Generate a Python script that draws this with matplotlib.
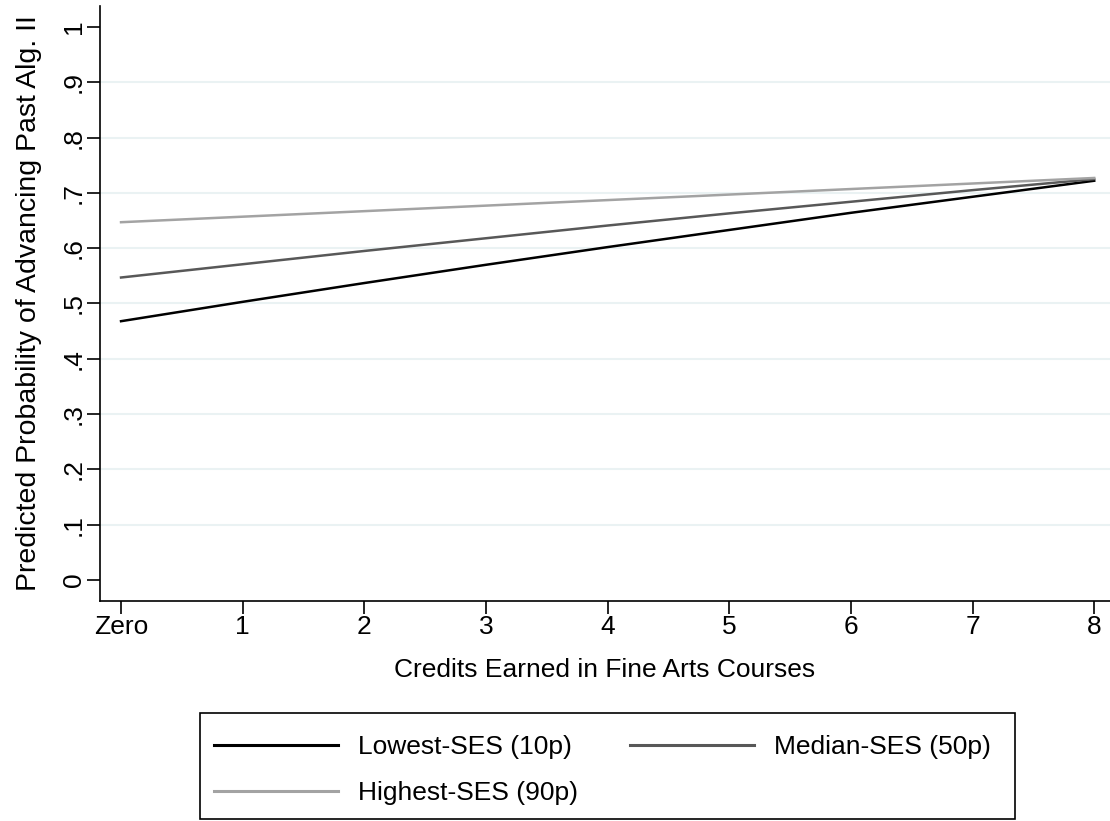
import matplotlib
matplotlib.use("Agg")
import matplotlib.pyplot as plt

# predicted probabilities
credits = [0, 1, 2, 3, 4, 5, 6, 7, 8]
tick_labels = ["Zero", "1", "2", "3", "4", "5", "6", "7", "8"]
lowest_ses = [0.468, 0.503, 0.537, 0.570, 0.602, 0.633, 0.664, 0.693, 0.722]
median_ses = [0.547, 0.571, 0.595, 0.618, 0.641, 0.663, 0.684, 0.705, 0.725]
highest_ses = [0.647, 0.657, 0.667, 0.677, 0.687, 0.697, 0.707, 0.717, 0.727]
y_ticks = [0, 0.1, 0.2, 0.3, 0.4, 0.5, 0.6, 0.7, 0.8, 0.9, 1]
y_tick_labels = ["0", ".1", ".2", ".3", ".4", ".5", ".6", ".7", ".8", ".9", "1"]

plt.rcParams['font.family'] = ['Liberation Sans', 'DejaVu Sans']
plt.rcParams['font.size'] = 19

W, H = 1110, 821
fig = plt.figure(figsize=(W / 100, H / 100), dpi=100)
ax = fig.add_axes([100 / W, 1 - 601 / H, 1 - 100 / W, (601 - 6) / H])

# light gridlines, not at the ends
for y in y_ticks[1:-1]:
    ax.axhline(y, color='#eaf2f3', lw=1.5, zorder=1)

ax.plot(credits, lowest_ses, color='black', lw=1.8, label='Lowest-SES (10p)', zorder=3)
ax.plot(credits, median_ses, color='#585858', lw=1.8, label='Median-SES (50p)', zorder=3)
ax.plot(credits, highest_ses, color='#a3a3a3', lw=1.8, label='Highest-SES (90p)', zorder=3)

ax.set_xlim(-0.173, 8.13)
ax.set_ylim(-0.038, 1.038)
ax.set_xticks(credits)
ax.set_xticklabels(tick_labels)
ax.set_yticks(y_ticks)
ax.set_yticklabels(y_tick_labels, rotation=90, va='center')

for side in ['top', 'right']:
    ax.spines[side].set_visible(False)
for side in ['left', 'bottom']:
    ax.spines[side].set_linewidth(1.2)
ax.tick_params(axis='both', length=9.4, width=1.2, color='black')
ax.tick_params(axis='x', pad=1)
ax.tick_params(axis='y', pad=1)

ax.set_xlabel('Credits Earned in Fine Arts Courses', labelpad=13)
ax.set_ylabel('Predicted Probability of Advancing Past Alg. II', fontsize=20.5, labelpad=14)

# legend order: Lowest, Median (row 1), Highest (row 2)
handles, labels = ax.get_legend_handles_labels()
order = [0, 2, 1]
leg = fig.legend([handles[i] for i in order], [labels[i] for i in order],
                 ncol=2, loc='upper left', bbox_to_anchor=(214 / W, 1 - 735 / H),
                 borderaxespad=0, frameon=False, borderpad=0,
                 handlelength=4.7, handletextpad=0.76, columnspacing=1.95,
                 labelspacing=0.83)
for line in leg.get_lines():
    line.set_linewidth(2.2)

# legend box (Stata style: wider padding top/bottom than sides)
box = plt.Rectangle((200 / W, 1 - 819 / H), 815 / W, 106 / H, transform=fig.transFigure,
                    fill=False, edgecolor='black', linewidth=1.2)
fig.add_artist(box)

fig.savefig('out.png', dpi=100)
